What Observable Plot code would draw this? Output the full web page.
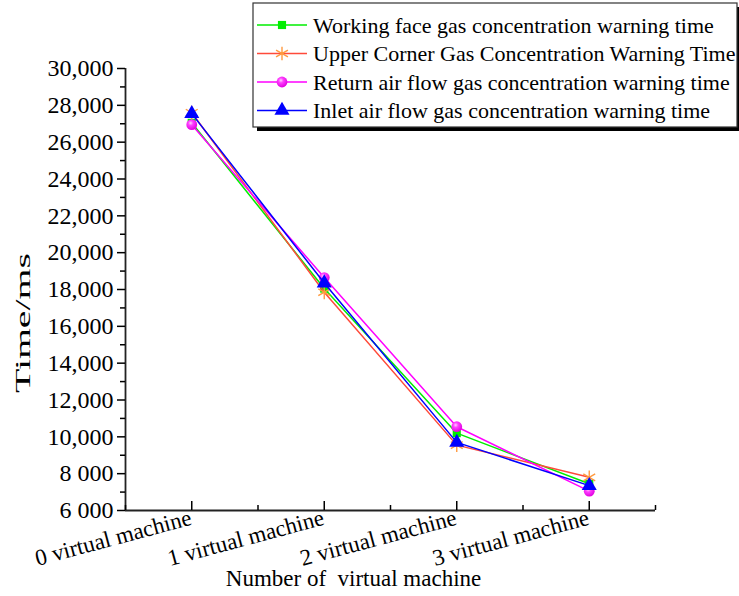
<!DOCTYPE html>
<html>
<head>
<meta charset="utf-8">
<script src="https://cdn.jsdelivr.net/npm/d3@7"></script>
<script src="https://cdn.jsdelivr.net/npm/@observablehq/plot@0.6"></script>
<style>
  html, body { margin: 0; padding: 0; background: #fff; }
  #chart { position: relative; width: 739px; height: 596px; }
  svg { font-family: "Liberation Serif", "Times New Roman", serif; }
</style>
</head>
<body>
<div id="chart"></div>
<script>
// ---- data ----
const categories = ["0 virtual machine", "1 virtual machine", "2 virtual machine", "3 virtual machine"];
const seriesNames = [
  "Working face gas concentration warning time",
  "Upper Corner Gas Concentration Warning Time",
  "Return air flow gas concentration warning time",
  "Inlet air flow gas concentration warning time"
];
const workingFace = [27050, 18050, 10200, 7450];
const upperCorner = [27600, 17850, 9550, 7800];
const returnAir   = [26950, 18650, 10550, 7050];
const inletAir    = [27550, 18350, 9700, 7350];
const yTicks = [6000, 8000, 10000, 12000, 14000, 16000, 18000, 20000, 22000, 24000, 26000, 28000, 30000];
const yTickLabels = ["6 000", "8 000", "10,000", "12,000", "14,000", "16,000", "18,000", "20,000", "22,000", "24,000", "26,000", "28,000", "30,000"];
const yMinorTicks = [7000, 9000, 11000, 13000, 15000, 17000, 19000, 21000, 23000, 25000, 27000, 29000];
const xLabel = "Number of  virtual machine";
const yLabel = "Time/ms";

// ---- styles ----
const styles = [
  {line: "#00ee00", symbol: "square", fill: "#00ee00", stroke: "none", r: 4.6},
  {line: "#ff4a3a", symbol: "asterisk", fill: "none", stroke: "#ff9a40", r: 6.5},
  {line: "#ff00ff", symbol: "circle", fill: "url(#sphere)", stroke: "none", r: 5.4},
  {line: "#0000ff", symbol: "triangle", fill: "#0000ff", stroke: "none", r: 5.6}
];
const allSeries = [workingFace, upperCorner, returnAir, inletAir];
const rows = allSeries.map((vals, s) => vals.map((v, i) => ({s, i, v})));

const font = "Liberation Serif, Times New Roman, serif";
const marks = [];
// axes lines
marks.push(Plot.ruleY([6000], {stroke: "#222", strokeWidth: 1.8}));
marks.push(Plot.ruleX([-0.5], {stroke: "#222", strokeWidth: 1.8}));
// y axis
marks.push(Plot.axisY({ticks: yTicks, tickSize: 8, tickPadding: 4, strokeWidth: 1.5,
  tickFormat: d => yTickLabels[yTicks.indexOf(d)], fontSize: 24, fill: "#000", label: null}));
marks.push(Plot.axisY({ticks: yMinorTicks, tickSize: 5, strokeWidth: 1.5, tickFormat: () => "", label: null}));
// x axis ticks (inward)
marks.push(Plot.axisX({ticks: [0, 1, 2, 3], tickSize: -9, strokeWidth: 1.5, tickFormat: () => "", label: null}));
marks.push(Plot.axisX({ticks: [-0.5, 0.5, 1.5, 2.5, 3.5], tickSize: -5, strokeWidth: 1.5, tickFormat: () => "", label: null}));
// x tick labels rotated
marks.push(Plot.text(categories, {x: (d, i) => i, y: () => 6000, text: d => d, rotate: -15,
  textAnchor: "end", lineAnchor: "top", dx: -3, dy: -2, fontSize: 23, fill: "#000"}));
// series
rows.forEach((data, s) => {
  const st = styles[s];
  marks.push(Plot.line(data, {x: "i", y: "v", stroke: st.line, strokeWidth: 1.5}));
  marks.push(Plot.dot(data, {x: "i", y: "v", symbol: () => st.symbol, fill: st.fill, stroke: st.stroke,
    strokeWidth: 1.4, r: st.r}));
});
// x axis title
marks.push(Plot.text([xLabel], {frameAnchor: "bottom", text: d => d, dx: -37, dy: 75, fontSize: 23, fill: "#000"}));

const plot = Plot.plot({
  width: 739, height: 596,
  marginLeft: 125, marginRight: 84, marginTop: 68, marginBottom: 86,
  x: {type: "linear", domain: [-0.5, 3.5], axis: null},
  y: {domain: [6000, 30000], axis: null},
  style: {fontFamily: font, background: "white", overflow: "visible"},
  marks
});
document.getElementById("chart").appendChild(plot);

const svg = d3.select(plot);
svg.selectAll("text").style("white-space", "pre");
// gradient for sphere markers
const defs = svg.insert("defs", ":first-child");
const g = defs.append("radialGradient").attr("id", "sphere").attr("cx", "0.4").attr("cy", "0.35").attr("r", "0.65");
g.append("stop").attr("offset", "0").attr("stop-color", "#ffd0ff");
g.append("stop").attr("offset", "0.35").attr("stop-color", "#ff40ff");
g.append("stop").attr("offset", "1").attr("stop-color", "#e000e0");

// y axis title (stretched like the original)
svg.append("text")
  .attr("transform", "translate(30,323) rotate(-90)")
  .attr("text-anchor", "middle")
  .attr("font-family", font).attr("font-size", 22).attr("fill", "#000")
  .attr("textLength", 140).attr("lengthAdjust", "spacingAndGlyphs")
  .text(yLabel);

// legend
const lg = svg.append("g").attr("transform", "translate(253,3)");
lg.append("rect").attr("x", 4).attr("y", 4).attr("width", 484).attr("height", 124).attr("fill", "#000");
lg.append("rect").attr("x", 0).attr("y", 0).attr("width", 484).attr("height", 124)
  .attr("fill", "#fff").attr("stroke", "#333").attr("stroke-width", 1.2);
const symMap = {square: d3.symbolSquare, asterisk: d3.symbolAsterisk, circle: d3.symbolCircle, triangle: d3.symbolTriangle};
seriesNames.forEach((name, s) => {
  const st = styles[s];
  const y = 22 + s * 28.5;
  lg.append("line").attr("x1", 4).attr("x2", 54).attr("y1", y).attr("y2", y).attr("stroke", st.line).attr("stroke-width", 1.5);
  lg.append("path").attr("transform", `translate(29,${y})`)
    .attr("d", d3.symbol(symMap[st.symbol], Math.PI * st.r * st.r)())
    .attr("fill", st.fill).attr("stroke", st.stroke).attr("stroke-width", 1.4);
  lg.append("text").attr("x", 60).attr("y", y).attr("dy", "0.35em").attr("text-anchor", "start")
    .attr("font-size", 22).attr("fill", "#000")
    .attr("font-family", font).text(name);
});
</script>
</body>
</html>
